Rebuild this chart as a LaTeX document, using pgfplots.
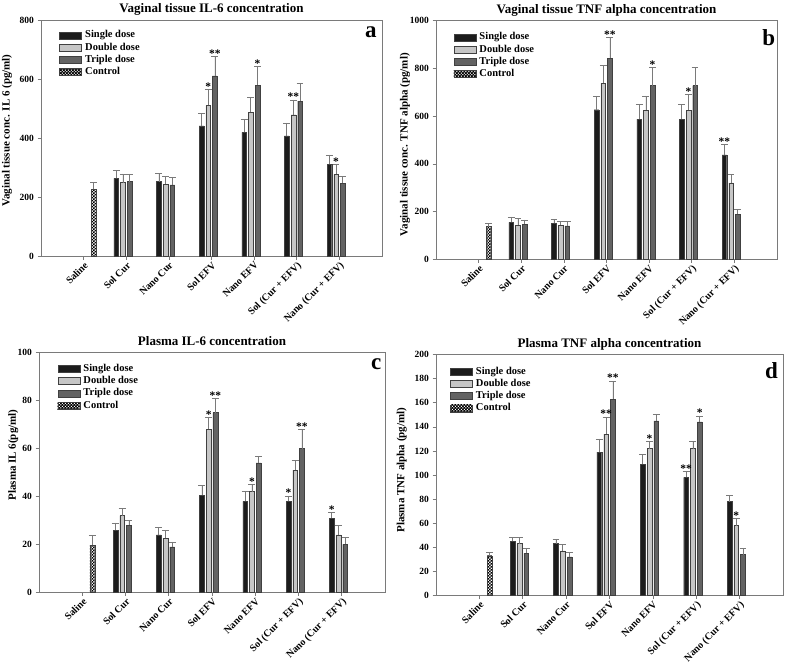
\documentclass[border=0pt]{standalone}
\usepackage{pgfplots}
\pgfplotsset{compat=1.18}
\usepackage{pgfplotstable}
\usetikzlibrary{patterns}
\usepackage{fontspec}
\setmainfont{Liberation Serif}

\definecolor{sdose}{HTML}{1C1C1C}
\definecolor{ddose}{HTML}{C6C6C6}
\definecolor{tdose}{HTML}{636363}
\definecolor{frame}{HTML}{7A7A7A}

% small checkerboard for the control bars
\pgfdeclarepatternformonly{smallcheck}{\pgfqpoint{-0.1pt}{-0.1pt}}{\pgfqpoint{3.1pt}{3.1pt}}{\pgfqpoint{3pt}{3pt}}{
  \pgfpathrectangle{\pgfqpoint{0pt}{0pt}}{\pgfqpoint{1.5pt}{1.5pt}}
  \pgfpathrectangle{\pgfqpoint{1.5pt}{1.5pt}}{\pgfqpoint{1.5pt}{1.5pt}}
  \pgfusepath{fill}}

% x s se d de t te : single / double / triple dose mean and +error
\pgfplotstableread{
x s se d de t te
1 263 26 249 29 252 26
2 252 27 243 26 241 26
3 441 43 511 54 611 65
4 419 44 487 51 579 63
5 407 44 479 50 525 59
6 311 32 277 33 246 23
}\dataA
\pgfplotstableread{
x s se d de t te
1 155 23 143 27 146 19
2 151 17 142 16 140 20
3 627 56 738 74 842 88
4 588 60 625 60 728 75
5 588 60 625 65 728 75
6 438 44 320 35 188 22
}\dataB
\pgfplotstableread{
x s se d de t te
1 26 3 32 3 28 2
2 24 3 22.5 3.5 19 2
3 40.5 4 68 5 75 6
4 38 4 42 3 54 2.7
5 38 2.2 51 4 60 8
6 31 2.2 24 4 20 3
}\dataC
\pgfplotstableread{
x s se d de t te
1 45 3.5 43 5.5 35 4
2 43 3.5 37 5.5 32 4
3 119 11 134 14 163 15
4 109 8 122 6 145 5
5 98 5 122 6 144 5
6 78 5 58 6 34 5
}\dataD

\tikzset{letter/.style={anchor=base east, inner sep=0pt, font=\bfseries\fontsize{23}{23}\selectfont}}

\pgfplotsset{
  panel/.style={
    scale only axis, ybar, bar width=0.11,
    xmin=-1, xmax=7, ymin=0,
    xtick={0,...,6},
    xticklabels={Saline,Sol Cur,Nano Cur,Sol EFV,Nano EFV,Sol (Cur + EFV),Nano (Cur + EFV)},
    xtick pos=left, ytick pos=left, tick align=outside,
    major tick length=3.5pt,
    axis line style={frame, line width=0.6pt},
    tick style={frame, line width=0.6pt},
    /pgf/number format/assume math mode=true,
    /pgf/number format/1000 sep={},
    yticklabel style={font=\bfseries\fontsize{9.5}{9.5}\selectfont},
    xticklabel style={rotate=45, anchor=north east, inner sep=1pt, font=\bfseries\fontsize{10}{10}\selectfont},
    every axis title/.style={at={(0.5,1)}, anchor=base, yshift=7.5pt, font=\bfseries\fontsize{13}{13}\selectfont},
    ylabel style={font=\bfseries\fontsize{11}{11}\selectfont, anchor=center},
    legend cell align=left,
    legend style={draw=none, fill=none, anchor=north west, inner sep=0pt, row sep=2.2pt, column sep=2.5pt,
      font=\bfseries\fontsize{10.5}{10.5}\selectfont, nodes={inner sep=1pt, text height=6.5pt, text depth=1.5pt}},
    clip=false,
  },
  bars/.style={draw=black!75, line width=0.4pt,
    error bars/y dir=plus, error bars/y explicit,
    error bars/error bar style={frame, line width=0.6pt},
    error bars/error mark options={rotate=90, frame, mark size=3.4pt, line width=0.6pt},
    legend image code/.code={\draw[##1, line width=0.4pt] (0pt,-3.5pt) rectangle (22pt,3.5pt);}},
  single/.style={bars, fill=sdose, bar shift=-0.234},
  double/.style={bars, fill=ddose, bar shift=-0.078},
  triple/.style={bars, fill=tdose, bar shift=0.078},
  control/.style={bars, fill=white, postaction={pattern=smallcheck, pattern color=black}, bar shift=0.234,
    legend image code/.code={\draw[line width=0.4pt, draw=black!75, fill=white, postaction={pattern=smallcheck}] (0pt,-3.5pt) rectangle (22pt,3.5pt);}},
  stars/.style={draw=none, fill=none, forget plot, bar shift=#1,
    point meta=explicit symbolic, nodes near coords,
    nodes near coords style={font=\bfseries\fontsize{11.5}{11.5}\selectfont, anchor=south, inner sep=0pt, yshift=-1pt}},
}

\begin{document}
\begin{tikzpicture}
\path[use as bounding box, fill=white] (0,0) rectangle (787pt,-665pt);

% ---- a ----
\begin{axis}[panel, at={(41pt,-256pt)}, anchor=south west, width=341pt, height=236pt,
  ymax=800, ytick={0,200,...,800},
  title={Vaginal tissue IL-6 concentration},
  ylabel={Vaginal tissue conc. IL 6 (pg/ml)},
  ylabel style={at={(axis description cs:-0.0997,0.532)}},
  legend style={at={(axis description cs:0.053,0.957)}}]
\addplot[single] table[x=x, y=s, y error=se] {\dataA};
\addplot[double] table[x=x, y=d, y error=de] {\dataA};
\addplot[triple] table[x=x, y=t, y error=te] {\dataA};
\addplot[control] coordinates {(0,226) +- (0,23)};
\legend{Single dose, Double dose, Triple dose, Control}
\addplot[stars=-0.078] coordinates {(3,565) [*] (5,529) [**] (6,310) [*]};
\addplot[stars=0.078] coordinates {(3,676) [**] (4,642) [*]};
\node[letter] at (axis description cs:0.985,0.924) {a};
\end{axis}

% ---- b ----
\begin{axis}[panel, at={(436pt,-259.3pt)}, anchor=south west, width=341pt, height=238.6pt,
  ymax=1000, ytick={0,200,...,1000},
  title={Vaginal tissue TNF alpha concentration},
  ylabel={Vaginal tissue conc. TNF alpha (pg/ml)},
  ylabel style={at={(axis description cs:-0.091,0.48)}},
  legend style={at={(axis description cs:0.051,0.952)}}]
\addplot[single] table[x=x, y=s, y error=se] {\dataB};
\addplot[double] table[x=x, y=d, y error=de] {\dataB};
\addplot[triple] table[x=x, y=t, y error=te] {\dataB};
\addplot[control] coordinates {(0,137) +- (0,15)};
\legend{Single dose, Double dose, Triple dose, Control}
\addplot[stars=-0.234] coordinates {(6,482) [**]};
\addplot[stars=-0.078] coordinates {(5,690) [*]};
\addplot[stars=0.078] coordinates {(3,930) [**] (4,803) [*]};
\node[letter] at (axis description cs:0.995,0.894) {b};
\end{axis}

% ---- c ----
\begin{axis}[panel, at={(39pt,-592.3pt)}, anchor=south west, width=346pt, height=239.6pt,
  ymax=100, ytick={0,20,...,100},
  title={Plasma IL-6 concentration},
  ylabel={Plasma IL 6(pg/ml)},
  ylabel style={at={(axis description cs:-0.074,0.573)}},
  legend style={at={(axis description cs:0.053,0.954)}}]
\addplot[single] table[x=x, y=s, y error=se] {\dataC};
\addplot[double] table[x=x, y=d, y error=de] {\dataC};
\addplot[triple] table[x=x, y=t, y error=te] {\dataC};
\addplot[control] coordinates {(0,19.7) +- (0,4)};
\legend{Single dose, Double dose, Triple dose, Control}
\addplot[stars=-0.234] coordinates {(5,40.2) [*] (6,33.2) [*]};
\addplot[stars=-0.078] coordinates {(3,72.8) [*] (4,45) [*]};
\addplot[stars=0.078] coordinates {(3,81) [**] (5,68) [**]};
\node[letter] at (axis description cs:0.99,0.931) {c};
\end{axis}

% ---- d ----
\begin{axis}[panel, at={(436pt,-595.5pt)}, anchor=south west, width=347pt, height=241pt,
  ymax=200, ytick={0,20,...,200},
  title={Plasma TNF alpha concentration},
  ylabel={Plasma TNF alpha (pg/ml)},
  ylabel style={at={(axis description cs:-0.099,0.52)}},
  legend style={at={(axis description cs:0.04,0.95)}}]
\addplot[single] table[x=x, y=s, y error=se] {\dataD};
\addplot[double] table[x=x, y=d, y error=de] {\dataD};
\addplot[triple] table[x=x, y=t, y error=te] {\dataD};
\addplot[control] coordinates {(0,33) +- (0,3)};
\legend{Single dose, Double dose, Triple dose, Control}
\addplot[stars=-0.234] coordinates {(5,103) [**]};
\addplot[stars=-0.078] coordinates {(3,148) [**] (4,128) [*] (6,64) [*]};
\addplot[stars=0.078] coordinates {(3,178) [**] (5,149) [*]};
\node[letter] at (axis description cs:0.986,0.902) {d};
\end{axis}
\end{tikzpicture}
\end{document}
